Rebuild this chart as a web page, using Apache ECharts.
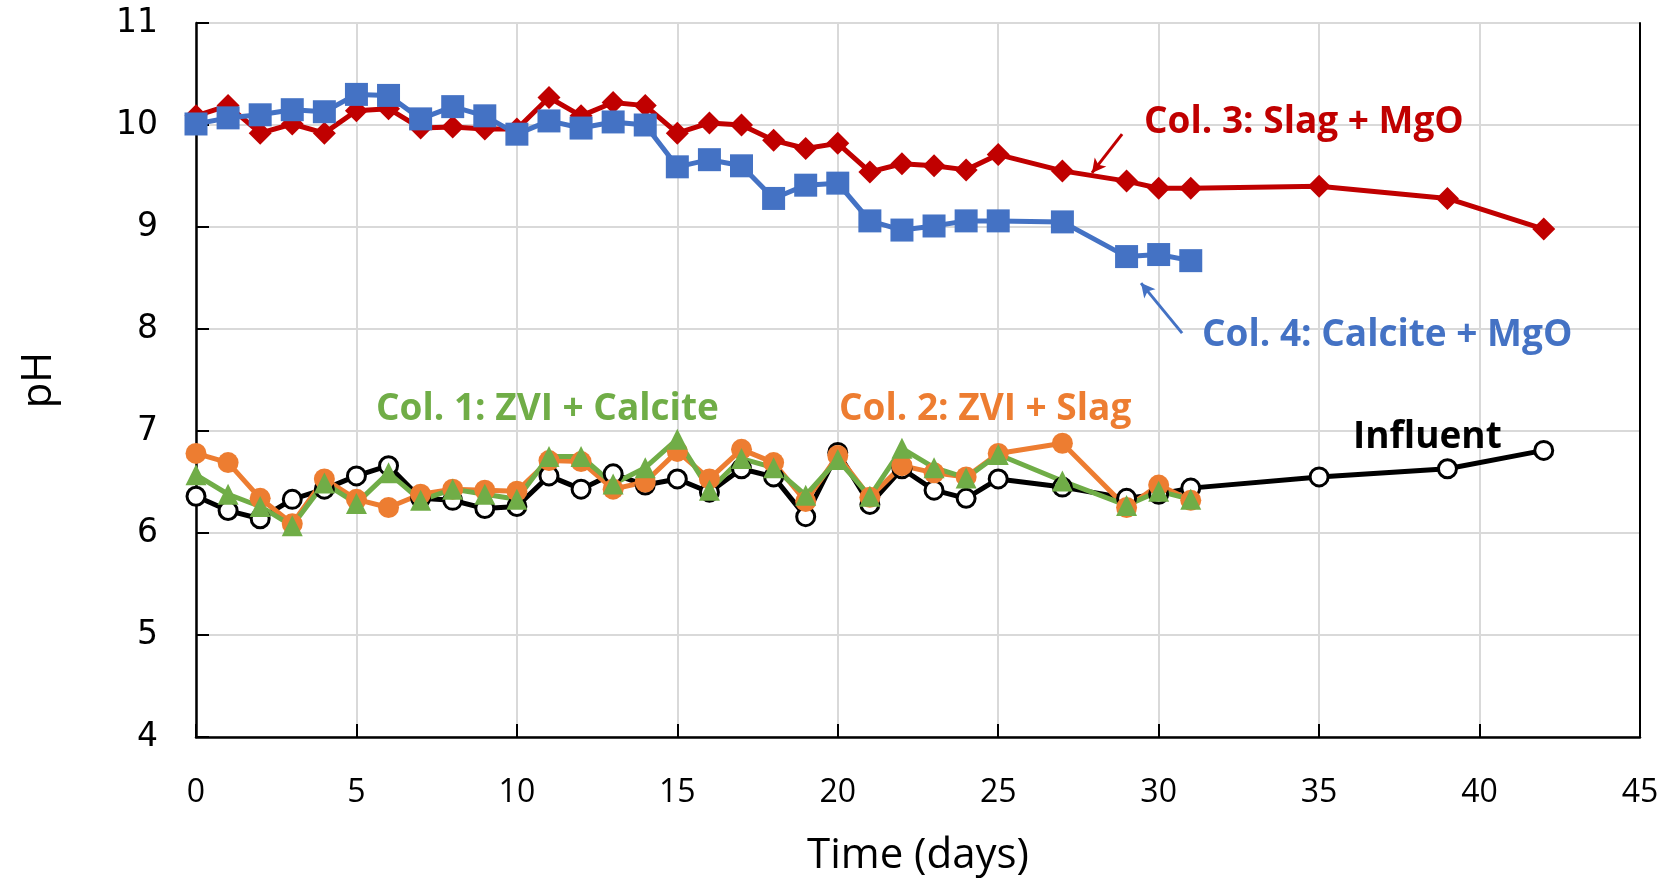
<!DOCTYPE html>
<html lang="en">
<head>
    <meta charset="UTF-8">
    <title>pH vs time</title>
    <script src="https://cdn.jsdelivr.net/npm/echarts@6/dist/echarts.min.js"></script>
    <style>
        html, body { margin: 0; padding: 0; background: #fff; }
        #chart { width: 1673px; height: 882px; }
    </style>
</head>
<body>
    <div id="chart"></div>
    <script>
        // days sampled
        var daysShort = [0, 1, 2, 3, 4, 5, 6, 7, 8, 9, 10, 11, 12, 13, 14, 15, 16, 17, 18, 19, 20, 21, 22, 23, 24, 25, 27, 29, 30, 31]
        var daysLong = daysShort.concat([35, 39, 42])

        // pH readings
        var influent = [6.36, 6.22, 6.14, 6.33, 6.43, 6.56, 6.66, 6.34, 6.32, 6.24, 6.26, 6.56, 6.43, 6.58, 6.47, 6.53,
            6.40, 6.63, 6.55, 6.16, 6.79, 6.28, 6.63, 6.42, 6.34, 6.53, 6.45, 6.34, 6.38, 6.44, 6.55, 6.63, 6.81]
        var col1 = [6.57, 6.38, 6.26, 6.07, 6.49, 6.29, 6.59, 6.32, 6.43, 6.38, 6.33, 6.75, 6.75, 6.48, 6.64, 6.92,
            6.42, 6.73, 6.64, 6.37, 6.72, 6.36, 6.83, 6.64, 6.54, 6.77, 6.51, 6.27, 6.41, 6.33]
        var col2 = [6.78, 6.69, 6.34, 6.09, 6.53, 6.33, 6.25, 6.38, 6.43, 6.42, 6.41, 6.71, 6.70, 6.43, 6.50, 6.80,
            6.53, 6.82, 6.69, 6.31, 6.76, 6.35, 6.66, 6.59, 6.55, 6.78, 6.88, 6.25, 6.47, 6.32]
        var col3 = [10.09, 10.19, 9.92, 10.01, 9.92, 10.14, 10.16, 9.97, 9.98, 9.96, 9.96, 10.27, 10.09, 10.22, 10.19, 9.92,
            10.02, 10.00, 9.85, 9.77, 9.82, 9.54, 9.62, 9.60, 9.56, 9.71, 9.55, 9.45, 9.38, 9.38, 9.40, 9.28, 8.98]
        var col4 = [10.01, 10.07, 10.10, 10.15, 10.13, 10.30, 10.29, 10.06, 10.18, 10.09, 9.91, 10.04, 9.97, 10.03, 10.00, 9.59,
            9.66, 9.60, 9.28, 9.41, 9.43, 9.06, 8.97, 9.01, 9.06, 9.06, 9.05, 8.71, 8.73, 8.67]

        // annotation arrows (data coords: [startX, startY, endX, endY])
        var arrow3 = [28.86, 9.91, 27.92, 9.53]
        var arrow4 = [30.73, 7.96, 29.45, 8.45]

        function pairs(xs, ys) {
            return ys.map(function (v, i) { return [xs[i], v] })
        }

        var mCharts = echarts.init(document.getElementById('chart'))

        function arrowLine(a, color) {
            return {
                silent: true,
                symbol: ['none', 'arrow'],
                symbolSize: [11, 14],
                label: { show: false },
                lineStyle: { color: color, width: 3, type: 'solid' },
                emphasis: { disabled: true },
                animation: false,
                data: [[{ coord: [a[0], a[1]] }, { coord: [a[2], a[3]] }]]
            }
        }

        function note(text, x, y, color) {
            return {
                type: 'text', x: x, y: y, z: 20,
                style: { text: text, fill: color, font: 'bold 37px "Open Sans"', verticalAlign: 'middle' }
            }
        }

        var option = {
            animation: false,
            grid: { left: 196, right: 33, top: 23, bottom: 144 },
            xAxis: {
                type: 'value',
                min: 0, max: 45, interval: 5,
                name: 'Time (days)',
                nameLocation: 'middle',
                nameGap: 98,
                nameTextStyle: { fontFamily: 'Open Sans', fontSize: 42, color: '#000' },
                axisLine: { lineStyle: { color: '#000', width: 2.5 } },
                axisTick: { inside: true, length: 13, lineStyle: { color: '#000', width: 2 } },
                axisLabel: { fontFamily: 'Open Sans', fontSize: 32, color: '#000', margin: 40 },
                splitLine: { show: true, lineStyle: { color: '#d9d9d9', width: 2 } }
            },
            yAxis: [
                {
                    type: 'value',
                    min: 4, max: 11, interval: 1,
                    name: 'pH',
                    nameLocation: 'middle',
                    nameGap: 136,
                    nameTextStyle: { fontFamily: 'Open Sans', fontSize: 42, color: '#000' },
                    axisLine: { show: true, lineStyle: { color: '#000', width: 2.5 } },
                    axisTick: { show: true, inside: true, length: 13, lineStyle: { color: '#000', width: 2 } },
                    axisLabel: { fontFamily: 'DejaVu Sans', fontSize: 33, color: '#000', margin: 38 },
                    splitLine: { show: true, lineStyle: { color: '#d9d9d9', width: 2 } }
                },
                {
                    // right frame line
                    type: 'value', position: 'right',
                    min: 4, max: 11, interval: 1,
                    axisLine: { show: true, lineStyle: { color: '#000', width: 2 } },
                    axisTick: { show: false },
                    axisLabel: { show: false },
                    splitLine: { show: false }
                }
            ],
            series: [
                {
                    name: 'Influent', type: 'line', data: pairs(daysLong, influent),
                    symbol: 'circle', symbolSize: 18,
                    lineStyle: { color: '#000', width: 5 },
                    itemStyle: { color: '#fff', borderColor: '#000', borderWidth: 3 }
                },
                {
                    name: 'Col. 2', type: 'line', data: pairs(daysShort, col2),
                    symbol: 'circle', symbolSize: 21,
                    lineStyle: { color: '#ED7D31', width: 5 },
                    itemStyle: { color: '#ED7D31' }
                },
                {
                    name: 'Col. 1', type: 'line', data: pairs(daysShort, col1),
                    symbol: 'triangle', symbolSize: 21,
                    lineStyle: { color: '#70AD47', width: 5 },
                    itemStyle: { color: '#70AD47' }
                },
                {
                    name: 'Col. 3', type: 'line', data: pairs(daysLong, col3),
                    symbol: 'diamond', symbolSize: 23,
                    lineStyle: { color: '#C00000', width: 5 },
                    itemStyle: { color: '#C00000' },
                    markLine: arrowLine(arrow3, '#C00000')
                },
                {
                    name: 'Col. 4', type: 'line', data: pairs(daysShort, col4),
                    symbol: 'rect', symbolSize: 23,
                    lineStyle: { color: '#4472C4', width: 5 },
                    itemStyle: { color: '#4472C4' },
                    markLine: arrowLine(arrow4, '#4472C4')
                }
            ],
            graphic: [
                note('Col. 3: Slag + MgO', 1144, 122, '#C00000'),
                note('Col. 4: Calcite + MgO', 1202, 335, '#4472C4'),
                note('Col. 1: ZVI + Calcite', 376, 409, '#70AD47'),
                note('Col. 2: ZVI + Slag', 839, 409, '#ED7D31'),
                note('Influent', 1353, 437, '#000')
            ]
        }
        mCharts.setOption(option)
    </script>
</body>
</html>
